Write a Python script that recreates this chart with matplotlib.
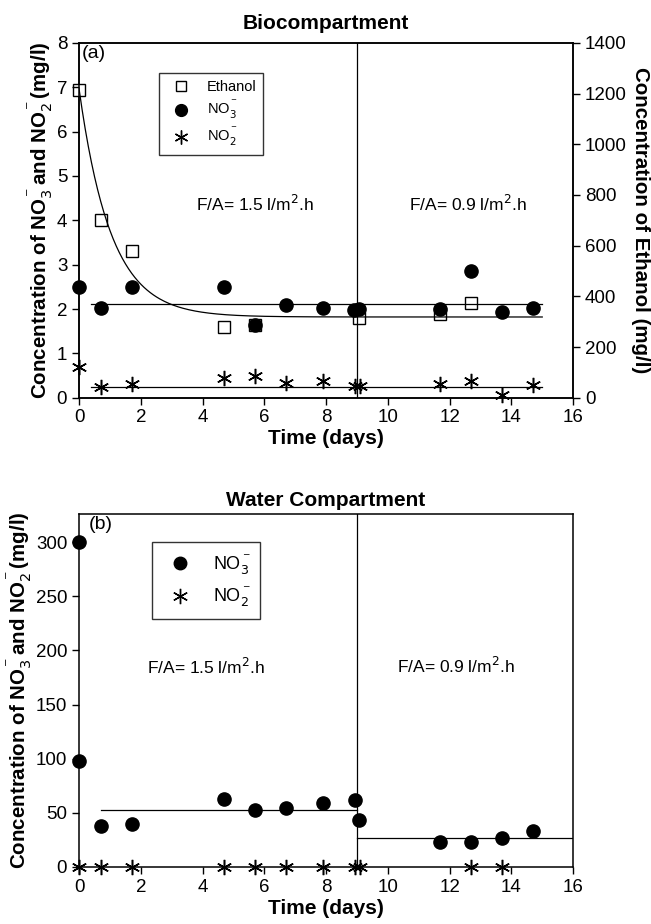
import matplotlib.pyplot as plt
import numpy as np

plt.rcParams['font.family'] = ['Liberation Sans', 'DejaVu Sans']

# ---- Biocompartment data ----
t_eth = [0, 0.7, 1.7, 4.7, 5.7, 9.05, 11.7, 12.7]
eth = [1216, 703, 578, 280, 285, 316, 329, 373]          # mg/l (right axis)

t_no3_a = [0, 0.7, 1.7, 4.7, 5.7, 6.7, 7.9, 8.9, 9.05, 11.7, 12.7, 13.7, 14.7]
no3_a = [2.5, 2.02, 2.5, 2.5, 1.63, 2.1, 2.02, 1.98, 2.0, 2.0, 2.85, 1.93, 2.02]

t_no2_a = [0, 0.7, 1.7, 4.7, 5.7, 6.7, 7.9, 8.95, 9.1, 11.7, 12.7, 13.7, 14.7]
no2_a = [0.7, 0.23, 0.32, 0.45, 0.48, 0.33, 0.38, 0.27, 0.27, 0.3, 0.38, 0.06, 0.28]

no3_a_mean = 2.12
no2_a_mean = 0.25
# ethanol fit (left-axis units): plateau + amp*exp(-rate*t)
eth_plateau, eth_amp, eth_rate = 1.82, 5.15, 0.97

# ---- Water compartment data ----
t_no3_b = [0, 0, 0.7, 1.7, 4.7, 5.7, 6.7, 7.9, 8.95, 9.05, 11.7, 12.7, 13.7, 14.7]
no3_b = [300, 98, 38, 39.5, 62.5, 52.6, 54.2, 58.8, 61.8, 43.4, 23.4, 23.4, 26.5, 33.2]

t_no2_b = [0, 0.7, 1.7, 4.7, 5.7, 6.7, 7.9, 8.95, 9.1, 12.7, 13.7]
no2_b = [0, 0, 0, 0, 0, 0, 0, 0, 0, 0, 0]

no3_b_mean1 = 52.6
no3_b_mean2 = 26.5

fig = plt.figure(figsize=(6.51, 9.24), dpi=100)

ms_sq = 8
ms_c = 9.5
ms_st = 11
star = (6, 2, 0)
ylab = 'Concentration of NO$_3^{^-}$and NO$_2^{^-}$(mg/l)'

# ---------------- panel (a) ----------------
ax = fig.add_axes([0.1214, 0.5696, 0.759, 0.3839])
ax2 = ax.twinx()
ax.set_xlim(0, 16)
ax.set_ylim(0, 8)
ax2.set_ylim(0, 1400)

tt = np.linspace(0, 15, 300)
ax.plot(tt, eth_plateau + eth_amp * np.exp(-eth_rate * tt), color='black', lw=0.9)
ax.plot([0.4, 15], [no3_a_mean, no3_a_mean], color='black', lw=0.9)
ax.plot([0.4, 15], [no2_a_mean, no2_a_mean], color='black', lw=0.9)
ax.axvline(9, color='black', lw=0.9)

ax.plot(t_no3_a, no3_a, 'o', color='black', ms=ms_c, clip_on=False, zorder=3)
ax.plot(t_no2_a, no2_a, marker=star, ls='none', color='black', ms=ms_st,
        mew=1.1, clip_on=False, zorder=3)
ax2.plot(t_eth, eth, 's', mfc='white', mec='black', ms=ms_sq, mew=1.0,
         clip_on=False, zorder=4)

ax.set_xticks(range(0, 17, 2))
ax.set_yticks(range(0, 9))
ax2.set_yticks(range(0, 1401, 200))
for a in (ax, ax2):
    a.tick_params(labelsize=13.5, length=5, width=1)
    for s in a.spines.values():
        s.set_linewidth(1.1)
ax.tick_params(top=False)

ax.set_xlabel('Time (days)', fontsize=15, fontweight='bold', labelpad=2)
ax.set_ylabel(ylab, fontsize=14.8, fontweight='bold', labelpad=1)
ax2.set_ylabel('Concentration of Ethanol (mg/l)', fontsize=14.8, fontweight='bold',
               rotation=270, labelpad=17)
ax.set_title('Biocompartment', fontsize=15, fontweight='bold', pad=10)
ax.text(0.1, 7.95, '(a)', fontsize=14, va='top', ha='left')
ax.text(3.8, 4.37, 'F/A= 1.5 l/m$^2$.h', fontsize=12.5, va='center')
ax.text(10.7, 4.37, 'F/A= 0.9 l/m$^2$.h', fontsize=12.5, va='center')

h1 = ax.plot([], [], 's', mfc='white', mec='black', ms=7)[0]
h2 = ax.plot([], [], 'o', color='black', ms=8.5)[0]
h3 = ax.plot([], [], marker=star, ls='none', color='black', ms=10)[0]
leg = ax.legend([h1, h2, h3], ['Ethanol', 'NO$_3^{^-}$', 'NO$_2^{^-}$'],
                loc='upper left', bbox_to_anchor=(0.148, 0.935), fontsize=10.5,
                frameon=True, fancybox=False, edgecolor='black',
                handletextpad=0.8, borderpad=0.45, labelspacing=0.35)
leg.get_frame().set_linewidth(1.0)
ax.set_zorder(ax2.get_zorder() + 1)
ax.patch.set_visible(False)

# ---------------- panel (b) ----------------
bx = fig.add_axes([0.1214, 0.0617, 0.759, 0.382])
bx.set_xlim(0, 16)
bx.set_ylim(0, 326)

bx.plot([0.7, 9], [no3_b_mean1, no3_b_mean1], color='black', lw=0.9)
bx.plot([9, 16], [no3_b_mean2, no3_b_mean2], color='black', lw=0.9)
bx.axvline(9, color='black', lw=0.9)

bx.plot(t_no3_b, no3_b, 'o', color='black', ms=ms_c, clip_on=False, zorder=3)
bx.plot(t_no2_b, no2_b, marker=star, ls='none', color='black', ms=ms_st,
        mew=1.1, clip_on=False, zorder=3)

bx.set_xticks(range(0, 17, 2))
bx.set_yticks(range(0, 301, 50))
bx.tick_params(labelsize=13.5, length=5, width=1, right=False, top=False)
for s in bx.spines.values():
    s.set_linewidth(1.1)

bx.set_xlabel('Time (days)', fontsize=15, fontweight='bold', labelpad=2)
bx.set_ylabel(ylab, fontsize=14.8, fontweight='bold', labelpad=1)
bx.set_title('Water Compartment', fontsize=15, fontweight='bold', pad=6)
bx.text(0.3, 324, '(b)', fontsize=14, va='top', ha='left')
bx.text(2.2, 185, 'F/A= 1.5 l/m$^2$.h', fontsize=12.5, va='center')
bx.text(10.3, 186, 'F/A= 0.9 l/m$^2$.h', fontsize=12.5, va='center')

g1 = bx.plot([], [], 'o', color='black', ms=9)[0]
g2 = bx.plot([], [], marker=star, ls='none', color='black', ms=11)[0]
leg2 = bx.legend([g1, g2], ['NO$_3^{^-}$', 'NO$_2^{^-}$'],
                 loc='upper left', bbox_to_anchor=(0.13, 0.945), fontsize=13,
                 frameon=True, fancybox=False, edgecolor='black',
                 handletextpad=0.8, borderpad=0.55, labelspacing=0.45)
leg2.get_frame().set_linewidth(1.0)

fig.savefig('out.png', dpi=100)
